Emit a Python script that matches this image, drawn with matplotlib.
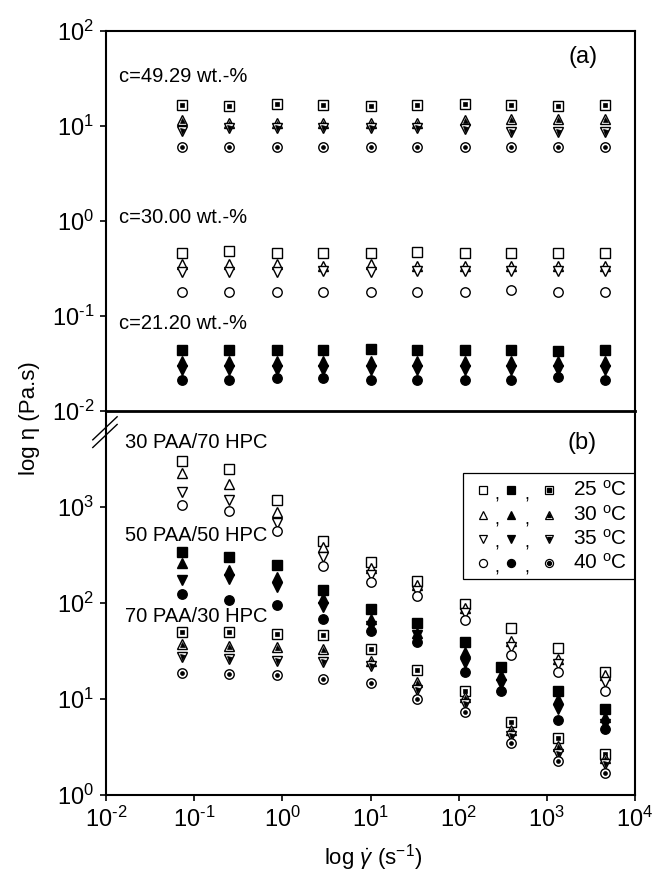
import matplotlib
matplotlib.use("Agg")
import matplotlib.pyplot as plt
from matplotlib.lines import Line2D
from matplotlib.patches import Rectangle
from matplotlib.ticker import FuncFormatter
import numpy as np

plt.rcParams['font.family'] = ['Liberation Sans', 'DejaVu Sans']
plt.rcParams['mathtext.fontset'] = 'custom'
plt.rcParams['mathtext.rm'] = 'Liberation Sans'
plt.rcParams['mathtext.it'] = 'Liberation Sans:italic'
plt.rcParams['axes.unicode_minus'] = False

# shear rates (1/s)
rate = [0.072, 0.25, 0.86, 2.9, 10, 34, 117, 390, 1320, 4600]
rate_filled = [0.072, 0.25, 0.86, 2.9, 10, 34, 117, 300, 1320, 4600]

# (a) viscosity vs concentration, columns: 25, 30, 35, 40 C
c4929_25 = [16.5, 16.4, 16.9, 16.5, 16.4, 16.6, 16.9, 16.5, 16.4, 16.5]
c4929_30 = [11.6, 10.8, 10.8, 10.8, 10.8, 10.8, 11.5, 11.8, 11.8, 11.8]
c4929_35 = [8.8, 9.6, 9.6, 9.6, 9.6, 9.6, 9.3, 8.6, 8.6, 8.6]
c4929_40 = [6.0, 6.0, 6.0, 6.0, 6.0, 6.0, 6.0, 6.0, 6.0, 6.0]

c3000_25 = [0.46, 0.48, 0.46, 0.46, 0.46, 0.47, 0.46, 0.46, 0.46, 0.46]
c3000_30 = [0.35, 0.35, 0.35, 0.34, 0.35, 0.34, 0.34, 0.34, 0.34, 0.34]
c3000_35 = [0.29, 0.29, 0.29, 0.30, 0.29, 0.30, 0.30, 0.30, 0.30, 0.30]
c3000_40 = [0.18, 0.18, 0.18, 0.18, 0.18, 0.18, 0.18, 0.19, 0.18, 0.18]

c2120_25 = [0.044, 0.044, 0.044, 0.044, 0.045, 0.044, 0.044, 0.044, 0.043, 0.044]
c2120_30 = [0.034, 0.034, 0.034, 0.034, 0.034, 0.034, 0.034, 0.034, 0.034, 0.034]
c2120_35 = [0.027, 0.027, 0.027, 0.027, 0.027, 0.027, 0.027, 0.027, 0.027, 0.027]
c2120_40 = [0.021, 0.021, 0.022, 0.022, 0.021, 0.021, 0.021, 0.021, 0.023, 0.021]

# (b) PAA/HPC blends
b3070_25 = [2980, 2470, 1180, 445, 270, 168, 98, 55, 33.6, 19]
b3070_30 = [2240, 1730, 890, 380, 230, 153, 89, 40, 26, 17.7]
b3070_35 = [1430, 1180, 684, 298, 195, 133, 79, 35, 23, 15]
b3070_40 = [1050, 910, 565, 240, 165, 118, 66, 28.6, 19, 12]

b5050_25 = [336, 305, 247, 136, 86, 62, 39, 21.4, 12, 7.9]
b5050_30 = [258, 219, 185, 112, 68, 49, 31, 17.8, 10, 6.5]
b5050_35 = [173, 178, 146, 91, 58, 46, 23.6, 14.3, 7.9, 5.5]
b5050_40 = [124, 107, 95, 68, 51, 39, 19, 12, 6.0, 4.9]

b7030_25 = [50, 50, 47, 46, 33, 20, 12, 5.8, 3.9, 2.65]
b7030_30 = [37, 36, 35, 33, 25, 15.2, 10.5, 4.8, 3.2, 2.4]
b7030_35 = [27.6, 26, 25, 24, 22, 12.4, 8.9, 4.1, 2.7, 2.1]
b7030_40 = [18.6, 18, 17.8, 16, 14.6, 10, 7.4, 3.5, 2.24, 1.7]

markers = ['s', '^', 'v', 'o']
temps = ['25', '30', '35', '40']
ms = 6.8


def open_pts(ax, x, y, m):
    ax.plot(x, y, ls='none', marker=m, ms=ms, mfc='white', mec='k', mew=1.0)


def filled_pts(ax, x, y, m):
    ax.plot(x, y, ls='none', marker=m, ms=ms, mfc='k', mec='k', mew=1.0)


def hatched_pts(ax, x, y, m):
    ax.plot(x, y, ls='none', marker=m, ms=ms, mfc='white', mec='k', mew=1.0)
    inner = 3.6 if m in ('^', 'v') else 2.8
    ax.plot(x, y, ls='none', marker=m, ms=inner, mfc='k', mec='k', mew=0.5)


def pow10(v, pos):
    e = int(round(np.log10(v)))
    if e < 0:
        return r'$\mathdefault{10^{\text{-}%d}}$' % (-e)
    return r'$\mathdefault{10^{%d}}$' % e


fig = plt.figure(figsize=(6.52, 8.76), dpi=100)
ax_b = fig.add_axes([0.1626, 0.0925, 0.8114, 0.4383])
ax_a = fig.add_axes([0.1626, 0.5308, 0.8114, 0.4338], sharex=ax_b)
ax_a.patch.set_visible(False)

# panel (a)
for m, y in zip(markers, [c4929_25, c4929_30, c4929_35, c4929_40]):
    hatched_pts(ax_a, rate, y, m)
for m, y in zip(markers, [c3000_25, c3000_30, c3000_35, c3000_40]):
    open_pts(ax_a, rate, y, m)
for m, y in zip(markers, [c2120_25, c2120_30, c2120_35, c2120_40]):
    filled_pts(ax_a, rate, y, m)

# panel (b)
for m, y in zip(markers, [b3070_25, b3070_30, b3070_35, b3070_40]):
    open_pts(ax_b, rate, y, m)
for m, y in zip(markers, [b5050_25, b5050_30, b5050_35, b5050_40]):
    filled_pts(ax_b, rate_filled, y, m)
for m, y in zip(markers, [b7030_25, b7030_30, b7030_35, b7030_40]):
    hatched_pts(ax_b, rate, y, m)

for ax in (ax_a, ax_b):
    ax.set_xscale('log')
    ax.set_yscale('log')
    for s in ax.spines.values():
        s.set_linewidth(1.5)
    ax.tick_params(direction='out', length=4.5, width=1.2, labelsize=17,
                   pad=4, top=False, right=False)

ax_a.set_xlim(1e-2, 1e4)
ax_a.set_ylim(1e-2, 1e2)
ax_a.set_yticks([1e-2, 1e-1, 1e0, 1e1, 1e2])
ax_a.tick_params(axis='x', bottom=False, labelbottom=False)
ax_a.spines['bottom'].set_linewidth(2.0)

ax_b.set_ylim(1e0, 1e4)
ax_b.set_yticks([1e0, 1e1, 1e2, 1e3])
ax_b.set_xticks([1e-2, 1e-1, 1e0, 1e1, 1e2, 1e3, 1e4])
ax_b.spines['top'].set_visible(False)

for ax in (ax_a, ax_b):
    ax.minorticks_off()
    ax.yaxis.set_major_formatter(FuncFormatter(pow10))
ax_b.xaxis.set_major_formatter(FuncFormatter(pow10))

# annotations
ax_a.text(0.025, 0.879, 'c=49.29 wt.-%', transform=ax_a.transAxes,
          fontsize=14.5, va='center')
ax_a.text(0.025, 0.51, 'c=30.00 wt.-%', transform=ax_a.transAxes,
          fontsize=14.5, va='center')
ax_a.text(0.025, 0.229, 'c=21.20 wt.-%', transform=ax_a.transAxes,
          fontsize=14.5, va='center')
ax_a.text(0.902, 0.932, '(a)', transform=ax_a.transAxes,
          fontsize=17, ha='center', va='center')

ax_b.text(0.90, 0.917, '(b)', transform=ax_b.transAxes,
          fontsize=17, ha='center', va='center')
ax_b.text(0.036, 0.919, '30 PAA/70 HPC', transform=ax_b.transAxes,
          fontsize=14.5, va='center')
ax_b.text(0.036, 0.677, '50 PAA/50 HPC', transform=ax_b.transAxes,
          fontsize=14.5, va='center')
ax_b.text(0.036, 0.464, '70 PAA/30 HPC', transform=ax_b.transAxes,
          fontsize=14.5, va='center')

# legend box drawn by hand
ax_b.add_patch(Rectangle((0.675, 0.5625), 0.325, 0.2765, transform=ax_b.transAxes,
                         fill=False, ec='k', lw=0.9))
row_y = [0.794, 0.729, 0.667, 0.604]
for m, t, ry in zip(markers, temps, row_y):
    kw = dict(transform=ax_b.transAxes, ls='none', marker=m, ms=5.8, mew=0.9)
    ax_b.plot([0.713], [ry], mfc='white', mec='k', **kw)
    ax_b.plot([0.766], [ry], mfc='k', mec='k', **kw)
    ax_b.plot([0.837], [ry], mfc='white', mec='k', **kw)
    ax_b.plot([0.837], [ry], transform=ax_b.transAxes, ls='none', marker=m,
              ms=2.8, mfc='k', mec='k')
    ax_b.text(0.739, ry - 0.012, ',', transform=ax_b.transAxes, fontsize=13,
              ha='center', va='center')
    ax_b.text(0.796, ry - 0.012, ',', transform=ax_b.transAxes, fontsize=13,
              ha='center', va='center')
    ax_b.text(0.883, ry, t + r' $^{\mathrm{o}}$C', transform=ax_b.transAxes,
              fontsize=15, va='center')

# axis break marks on the left spine
for dy in (0.0, 0.02):
    ax_b.add_line(Line2D([-0.025, 0.021], [0.905 + dy, 0.965 + dy],
                         transform=ax_b.transAxes, color='k', lw=1.0,
                         clip_on=False))

fig.text(0.046, 0.523, 'log η (Pa.s)', rotation=90, fontsize=16,
         ha='center', va='center')
fig.text(0.572, 0.021, r'log $\dot{\gamma}$ (s$^{-1}$)', fontsize=16,
         ha='center', va='center')

fig.savefig('out.png', dpi=100)
